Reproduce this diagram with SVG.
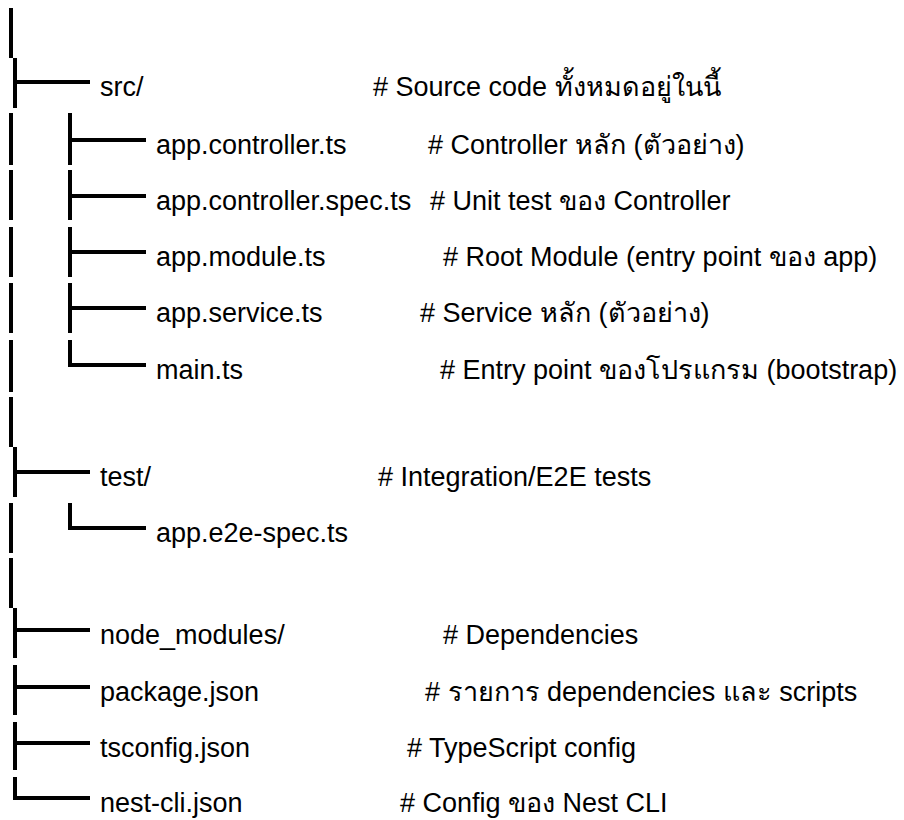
<svg xmlns="http://www.w3.org/2000/svg" width="904" height="820" viewBox="0 0 904 820">
<style>
.t{font-family:"Liberation Sans",Arial,"Noto Sans","DejaVu Sans",sans-serif;font-size:27px;fill:#000}
.ln{fill:none;stroke:#000;stroke-width:4;stroke-linecap:butt;stroke-linejoin:miter}
</style>
<rect width="904" height="820" fill="#fff"/>
<g id="connectors">
<path class="ln" d="M11,8 V58 M15,58 V108 M15,82 H90"/>
<path class="ln" d="M11,113 V165 M11,170 V220 M11,227 V277 M11,283 V333 M11,340 V392"/>
<path class="ln" d="M70,113 V165 M70,140 H146"/>
<path class="ln" d="M70,170 V220 M70,196 H146"/>
<path class="ln" d="M70,227 V277 M70,252 H146"/>
<path class="ln" d="M70,283 V333 M70,308 H146"/>
<path class="ln" d="M70,340 V365 H146"/>
<path class="ln" d="M11,397 V447 M15,447 V497 M15,472 H90"/>
<path class="ln" d="M11,503 V553 M70,503 V528 H146"/>
<path class="ln" d="M11,558 V608 M15,608 V658 M15,630 H90"/>
<path class="ln" d="M15,665 V715 M15,687 H90"/>
<path class="ln" d="M15,722 V770 M15,743 H90"/>
<path class="ln" d="M15,777 V798 H90"/>
</g>
<g id="src"><text class="t" x="100" y="96">src/</text><text class="t" x="373" y="96"># Source code ทั้งหมดอยู่ในนี้</text></g>
<g id="app-controller"><text class="t" x="156" y="154">app.controller.ts</text><text class="t" x="428" y="154"># Controller หลัก (ตัวอย่าง)</text></g>
<g id="app-controller-spec"><text class="t" x="156" y="210">app.controller.spec.ts</text><text class="t" x="430" y="210"># Unit test ของ Controller</text></g>
<g id="app-module"><text class="t" x="156" y="266">app.module.ts</text><text class="t" x="443" y="266"># Root Module (entry point ของ app)</text></g>
<g id="app-service"><text class="t" x="156" y="322">app.service.ts</text><text class="t" x="420" y="322"># Service หลัก (ตัวอย่าง)</text></g>
<g id="main"><text class="t" x="156" y="379">main.ts</text><text class="t" x="440" y="379"># Entry point ของโปรแกรม (bootstrap)</text></g>
<g id="test"><text class="t" x="100" y="486">test/</text><text class="t" x="378" y="486"># Integration/E2E tests</text></g>
<g id="app-e2e"><text class="t" x="156" y="542">app.e2e-spec.ts</text></g>
<g id="node-modules"><text class="t" x="100" y="644">node_modules/</text><text class="t" x="443" y="644"># Dependencies</text></g>
<g id="package"><text class="t" x="100" y="701">package.json</text><text class="t" x="425" y="701"># รายการ dependencies และ scripts</text></g>
<g id="tsconfig"><text class="t" x="100" y="757">tsconfig.json</text><text class="t" x="407" y="757"># TypeScript config</text></g>
<g id="nest-cli"><text class="t" x="100" y="812">nest-cli.json</text><text class="t" x="400" y="812"># Config ของ Nest CLI</text></g>
</svg>
